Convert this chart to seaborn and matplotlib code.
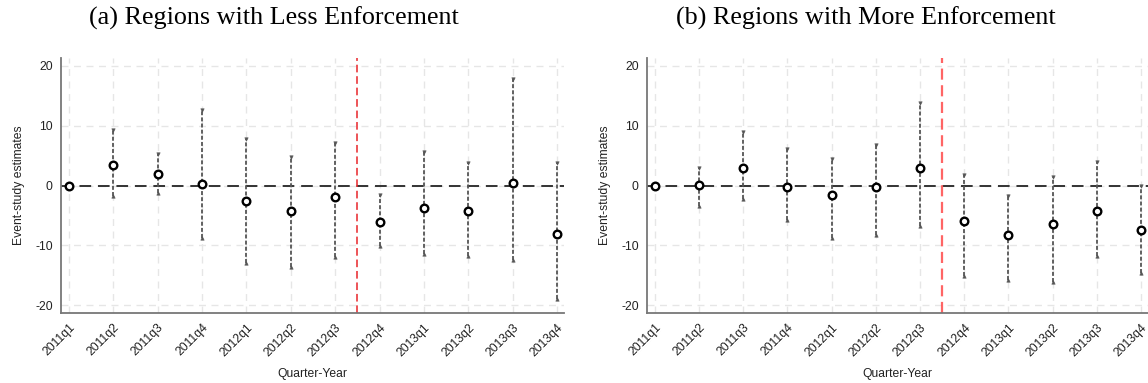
import numpy as np
import pandas as pd
import matplotlib
matplotlib.use("Agg")
import matplotlib.pyplot as plt
import seaborn as sns

quarters = ["2011q1", "2011q2", "2011q3", "2011q4", "2012q1", "2012q2",
            "2012q3", "2012q4", "2013q1", "2013q2", "2013q3", "2013q4"]

less_est = [0.0, 3.4, 1.95, 0.2, -2.6, -4.2, -1.9, -6.1, -3.7, -4.2, 0.45, -8.05]
less_hi = [0.0, 9.2, 5.2, 12.6, 7.7, 4.7, 7.1, -1.6, 5.6, 3.8, 17.8, 3.8]
less_lo = [0.0, -1.8, -1.2, -8.8, -12.9, -13.6, -11.9, -10.1, -11.4, -11.8, -12.5, -18.9]

more_est = [0.0, 0.05, 2.9, -0.17, -1.67, -0.2, 3.0, -6.0, -8.3, -6.4, -4.2, -7.5]
more_hi = [0.0, 2.9, 8.9, 6.1, 4.4, 6.7, 13.8, 1.7, -1.8, 1.45, 3.9, -0.1]
more_lo = [0.0, -3.4, -2.2, -5.7, -8.8, -8.2, -6.8, -15.2, -15.8, -16.2, -11.7, -14.6]

titles = ["(a) Regions with Less Enforcement", "(b) Regions with More Enforcement"]
yticks = [-20, -10, 0, 10, 20]
event_quarter = "2012q4"

sns.set_style("white")
plt.rcParams["font.family"] = ["Liberation Sans", "DejaVu Sans"]
plt.rcParams["axes.unicode_minus"] = False

fig = plt.figure(figsize=(11.48, 3.83), dpi=100)
W, H = 1148, 383
axes_px = [(61, 564), (647, 1148)]
top_px, bot_px = 58, 313

panels = [(less_est, less_lo, less_hi), (more_est, more_lo, more_hi)]
red_styles = [dict(color="#e8242a", lw=1.1, alpha=1.0), dict(color="#ff4a4a", lw=1.6, alpha=0.85)]

for i, ((est, lo, hi), (x0, x1)) in enumerate(zip(panels, axes_px)):
    ax = fig.add_axes([x0 / W, (H - bot_px) / H, (x1 - x0) / W, (bot_px - top_px) / H])
    df = pd.DataFrame({"q": quarters, "pos": np.arange(len(quarters)),
                       "est": est, "lo": lo, "hi": hi})
    # grid
    for yv in yticks:
        ax.axhline(yv, color="#e6e6e6", lw=1.0, ls=(0, (5, 4)), zorder=0)
    for xv in df["pos"]:
        ax.axvline(xv, color="#e6e6e6", lw=1.0, ls=(0, (5, 4)), zorder=0)
    # zero line
    ax.axhline(0, color="#333333", lw=1.4, ls=(0, (6, 3.5)), zorder=1)
    # event line
    ev = quarters.index(event_quarter) - 0.5
    ax.axvline(ev, ls=(0, (5, 2.5)), zorder=1, **red_styles[i])
    # CI lines
    ax.vlines(df["pos"], df["lo"], df["hi"], color="#555555", lw=1.3,
              linestyles=(0, (2.2, 1.2)), zorder=2)
    sns.scatterplot(data=df, x="pos", y="hi", marker="v", s=6, color="#555555",
                    edgecolor="#555555", linewidth=0.4, ax=ax, zorder=3, legend=False)
    sns.scatterplot(data=df, x="pos", y="lo", marker="^", s=6, color="#555555",
                    edgecolor="#555555", linewidth=0.4, ax=ax, zorder=3, legend=False)
    sns.scatterplot(data=df, x="pos", y="est", marker="o", s=30, color="white",
                    edgecolor="black", linewidth=1.7, ax=ax, zorder=4, legend=False)

    ax.set_xlim(-0.175, 11.155)
    ax.set_ylim(-21.3, 21.3)
    ax.set_yticks(yticks)
    ax.set_yticklabels([str(v) for v in yticks], fontsize=8.7, color="#222222")
    ax.set_xticks(df["pos"])
    ax.set_xticklabels(quarters, rotation=45, ha="right", va="top",
                       rotation_mode="anchor", fontsize=8.7, color="#222222")
    ax.tick_params(axis="both", direction="out", length=4, width=1.0, color="#777777")
    ax.tick_params(axis="x", pad=2)
    ax.tick_params(axis="y", pad=2)
    for s in ["top", "right"]:
        ax.spines[s].set_visible(False)
    for s in ["left", "bottom"]:
        ax.spines[s].set_color("#777777")
        ax.spines[s].set_linewidth(1.3)
    ax.set_xlabel("Quarter-Year", fontsize=8.7, color="#222222", labelpad=7)
    ax.set_ylabel("Event-study estimates", fontsize=8.7, color="#222222", labelpad=7)
    ax.grid(False)

title_x = [274 / W, 865.5 / W]
for k, t in enumerate(titles):
    fig.text(title_x[k], 1 - 18 / H, t, ha="center", va="center",
             fontsize=18.8, family=["Liberation Serif", "DejaVu Serif"], color="black")

fig.savefig("out.png", dpi=100)
